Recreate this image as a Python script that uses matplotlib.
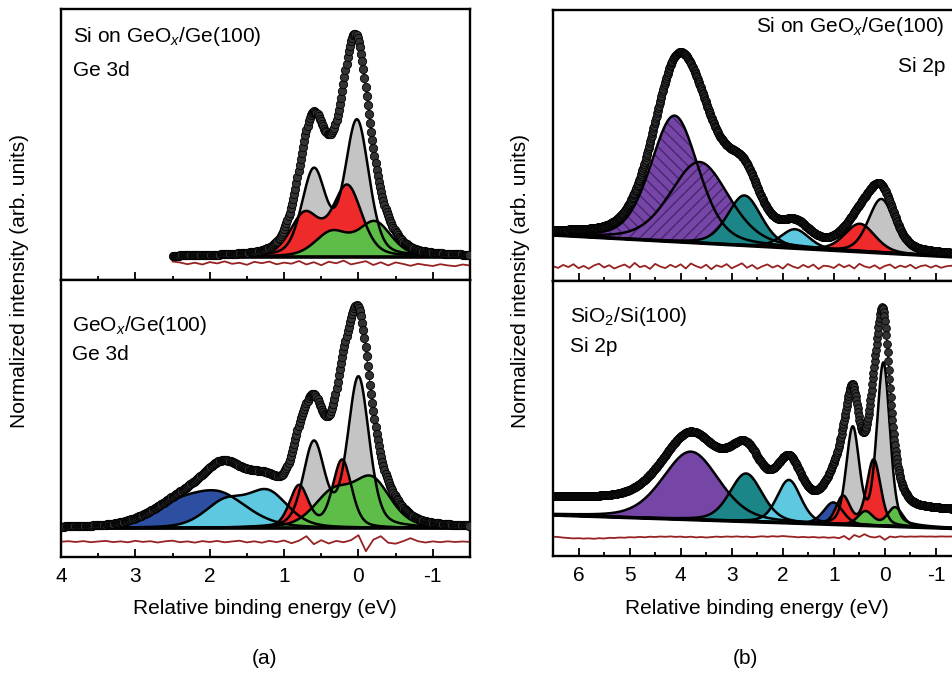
import numpy as np
import matplotlib.pyplot as plt
from matplotlib.ticker import MultipleLocator

plt.rcParams['font.family'] = ['Liberation Sans', 'DejaVu Sans']
plt.rcParams['mathtext.fontset'] = 'custom'
plt.rcParams['mathtext.rm'] = 'Liberation Sans'
plt.rcParams['mathtext.it'] = 'Liberation Sans:italic'
plt.rcParams['axes.unicode_minus'] = False

# fitted peaks: (position eV, height, fwhm eV)
# (a) Si on GeOx/Ge(100), Ge 3d
a1_grey = [(0.02, 135, 0.38), (0.60, 85, 0.38)]
a1_red = [(0.15, 70, 0.46), (0.72, 42, 0.46)]
a1_green = [(-0.22, 34, 0.52), (0.36, 24, 0.52)]
# (a) GeOx/Ge(100), Ge 3d
a2_blue = [(1.85, 30, 0.90), (2.43, 20, 0.90)]
a2_cyan = [(1.22, 35, 0.65), (1.80, 25, 0.65)]
a2_grey = [(0.00, 150, 0.34), (0.60, 84, 0.34)]
a2_red = [(0.22, 68, 0.30), (0.80, 42, 0.30)]
a2_green = [(-0.18, 47, 0.60), (0.35, 33, 0.60)]
# (b) Si on GeOx/Ge(100), Si 2p
b1_purple1 = [(4.12, 126, 1.10)]
b1_purple2 = [(3.63, 81, 1.35)]
b1_teal = [(2.75, 50, 0.78)]
b1_cyan = [(1.76, 19, 0.65)]
b1_grey = [(0.07, 54, 0.60)]
b1_red = [(0.49, 28, 0.70)]
# (b) SiO2/Si(100), Si 2p
b2_purple = [(3.80, 68, 1.30)]
b2_teal = [(2.72, 48, 0.75)]
b2_cyan = [(1.88, 43, 0.55)]
b2_blue = [(1.01, 22, 0.45)]
b2_grey = [(0.03, 162, 0.30), (0.63, 96, 0.30)]
b2_red = [(0.22, 66, 0.32), (0.82, 28, 0.32)]
b2_green = [(-0.20, 19, 0.35), (0.38, 14, 0.35)]

# background at the two ends of each energy range (left, right)
a1_bg = (23.3, 23.3)
a2_bg = (28.7, 28.7)
b1_bg = (46.0, 23.7)
b2_bg = (41.0, 27.3)
env_shift = [0, 0, 2, 18]
lorentz = [0.3, 0.35, 0.3, 0.3]

# residuals (fit - data), one value every 0.1 eV
a1_res = [1.5, 0.5, -1.2, 0.3, -1.5, 0.9, -0.4, 1.6, -0.8, 0.2, -1.8, 1.2, -0.2, 1.4,
          -1.3, 0.4, -0.7, 2.0, -1.5, 0.8, -2.2, 1.3, -0.3, 2.4, -1.4, 0.2, 1.8, -2.0,
          0.7, -2.4, 0.6, -0.9, -2.8, -0.8, -2.0, -3.0, -1.2, -2.4, -3.2, -1.5, -2.5]
a2_res = [0.0, 0.5, -0.3, 0.6, -0.5, 0.2, 0.8, -0.4, 0.3, -0.6, 0.9, -0.2, 0.5, -0.8,
          0.4, 1.0, -0.5, 0.3, -0.9, 0.6, -0.3, 0.8, -0.6, 0.2, 1.0, -0.7, 0.4, -1.0,
          0.8, -0.4, 1.2, -1.5, 1.0, 5.5, -2.5, 1.5, -1.8, 0.8, -0.5, 1.5, 6.5, -9.5,
          2.0, 5.5, -1.0, -2.0, 0.5, 3.5, 0.5, -0.8, 0.3, -0.5, 0.4, -0.3, 0.2, -0.2]
b1_res = [0.5, -1.2, 1.8, -0.4, 2.5, -1.5, 0.8, -2.0, 1.2, 3.0, -0.8, 1.5, -1.8, 0.3,
          2.2, -1.0, 3.8, -0.5, 1.0, -2.2, 2.8, 0.2, -1.4, 1.9, -0.6, 2.4, -1.8, 3.2,
          0.6, -1.2, 2.0, -2.5, 1.4, -0.3, 2.6, -1.6, 0.9, 3.4, -1.1, 1.7, -2.1, 0.4,
          2.3, -0.9, 1.3, -1.9, 2.7, 0.1, -1.5, 1.8, -0.7, 2.1, -2.3, 1.0, 0.5, -1.3,
          2.4, -0.6, 1.6, -1.8, 2.9, 0.3, -1.0, 1.4, -2.0, 0.8, 2.2, -1.4, 1.1, -0.5,
          1.9, -1.7, 0.6, 1.5, -0.9, 1.2, -1.1, 0.4, 1.0, -0.6, 0.7]
b2_res = [0.3, 0.0, -0.6, -1.0, -1.4, -1.2, -1.6, -1.3, -1.8, -1.2, -1.5, -0.8, -1.0,
          -0.5, -0.7, -0.2, -0.4, 0.1, -0.3, 0.3, 0.0, 0.5, 0.2, 0.6, 0.1, 0.4, -0.2,
          0.3, -0.4, 0.0, -0.5, -0.1, 0.4, 0.0, 0.5, 0.2, 0.6, 0.1, 0.4, -0.2, 0.3, 0.7,
          0.2, 0.8, 0.4, 1.0, 0.5, 0.2, -0.3, 0.1, -0.4, 0.0, -0.6, -0.2, -0.8, -0.3,
          -1.2, 1.0, -2.5, 2.0, 0.0, 2.8, 0.3, -0.5, 0.8, -2.8, 0.5, -0.3, 0.6, 0.2, 0.5,
          0.3, 0.6, 0.4, 0.5, 0.3, 0.6, 0.4, 0.5, 0.3, 0.4]
res_level = [17.0, 15.3, 14.3, 19.0]

GREY, RED, GREEN = '#c4c4c4', '#ee2a2a', '#5dbd48'
CYAN, BLUE, TEAL, PURPLE = '#5dc8e0', '#2d4fa2', '#1b8588', '#7646a6'


def pvoigt(x, peaks, eta):
    y = np.zeros_like(x)
    for c, h, w in peaks:
        d = (x - c) / w
        y += h * ((1 - eta) * np.exp(-4 * np.log(2) * d ** 2) + eta / (1 + 4 * d ** 2))
    return y


W, H = 953, 674
fig = plt.figure(figsize=(W / 100, H / 100), dpi=100)


def make_ax(x0, y0, x1, y1, xlim):
    ax = fig.add_axes([x0 / W, 1 - y1 / H, (x1 - x0) / W, (y1 - y0) / H])
    ax.set_xlim(*xlim)
    ax.set_ylim(0, y1 - y0)
    ax.set_yticks([])
    ax.xaxis.set_major_locator(MultipleLocator(1))
    ax.xaxis.set_minor_locator(MultipleLocator(0.5))
    ax.tick_params(axis='x', which='both', direction='in', width=1.3, labelsize=15, pad=7)
    ax.tick_params(axis='x', which='major', length=5.5)
    ax.tick_params(axis='x', which='minor', length=3)
    for s in ax.spines.values():
        s.set_linewidth(1.7)
    return ax


def panel(ax, xr, comps, bg, shift, eta, res, lev, step, ms):
    x = np.arange(xr[0], xr[1] - 1e-9, -step)
    base = bg[0] + (bg[1] - bg[0]) * (xr[0] - x) / (xr[0] - xr[1])
    total = np.zeros_like(x)
    for peaks, color, hatch in comps:
        y = pvoigt(x, peaks, eta)
        total += y
        if hatch:
            ax.fill_between(x, base, base + y, facecolor=color, edgecolor='#4a2672',
                            hatch=hatch, linewidth=0)
        else:
            ax.fill_between(x, base, base + y, facecolor=color, linewidth=0)
        ax.plot(x, base + y, color='black', lw=1.8)
    ax.plot(x, base, color='black', lw=2.6)
    env = base + total + shift
    ax.plot(x, env, color='black', lw=0.8, zorder=5)
    ax.plot(x, env, 'o', ms=ms, mfc='#333333', mec='black', mew=0.6, zorder=6)
    rx = np.linspace(xr[0], xr[1], len(res))
    ax.plot(rx, lev + np.array(res), color='#962222', lw=1.3)


# (a)
ax1 = make_ax(61, 9, 470, 280, (4, -1.5))
ax2 = make_ax(61, 280, 470, 557, (4, -1.5))
panel(ax1, (2.5, -1.5), [(a1_grey, GREY, None), (a1_red, RED, None), (a1_green, GREEN, None)],
      a1_bg, env_shift[0], lorentz[0], a1_res, res_level[0], 0.015, 6.0)
panel(ax2, (4.0, -1.5), [(a2_blue, BLUE, None), (a2_cyan, CYAN, None), (a2_grey, GREY, None),
                         (a2_red, RED, None), (a2_green, GREEN, None)],
      a2_bg, env_shift[1], lorentz[1], a2_res, res_level[1], 0.015, 6.0)
# (b)
ax3 = make_ax(553, 10, 961.5, 281, (6.5, -1.5))
ax4 = make_ax(553, 281, 961.5, 556, (6.5, -1.5))
panel(ax3, (6.5, -1.5), [(b1_purple1, PURPLE, '\\\\\\'), (b1_purple2, PURPLE, '///'),
                         (b1_teal, TEAL, None), (b1_cyan, CYAN, None), (b1_grey, GREY, None),
                         (b1_red, RED, None)],
      b1_bg, env_shift[2], lorentz[2], b1_res, res_level[2], 0.012, 5.6)
panel(ax4, (6.5, -1.5), [(b2_purple, PURPLE, None), (b2_teal, TEAL, None), (b2_cyan, CYAN, None),
                         (b2_blue, BLUE, None), (b2_grey, GREY, None), (b2_red, RED, None),
                         (b2_green, GREEN, None)],
      b2_bg, env_shift[3], lorentz[3], b2_res, res_level[3], 0.012, 5.6)

for ax in (ax1, ax3):
    ax.tick_params(axis='x', labelbottom=False)


def ftext(x, y, s, **kw):
    fig.text(x / W, 1 - y / H, s, fontsize=15, **kw)


ftext(73, 42, r'Si on GeO$_x$/Ge(100)', va='baseline')
ftext(73, 76, 'Ge 3d', va='baseline')
ftext(72, 331, r'GeO$_x$/Ge(100)', va='baseline')
ftext(72, 360, 'Ge 3d', va='baseline')
ftext(945, 32, r'Si on GeO$_x$/Ge(100)', va='baseline', ha='right')
ftext(945, 72, 'Si 2p', va='baseline', ha='right')
ftext(570, 322, r'SiO$_2$/Si(100)', va='baseline')
ftext(570, 352, 'Si 2p', va='baseline')

ftext(265, 608, 'Relative binding energy (eV)', ha='center', va='center')
ftext(757, 608, 'Relative binding energy (eV)', ha='center', va='center')
ftext(20, 281, 'Normalized intensity (arb. units)', ha='center', va='center', rotation=90)
ftext(520, 281, 'Normalized intensity (arb. units)', ha='center', va='center', rotation=90)
ftext(265, 658, '(a)', ha='center', va='center')
ftext(745, 658, '(b)', ha='center', va='center')

fig.savefig('out.png', dpi=100)
